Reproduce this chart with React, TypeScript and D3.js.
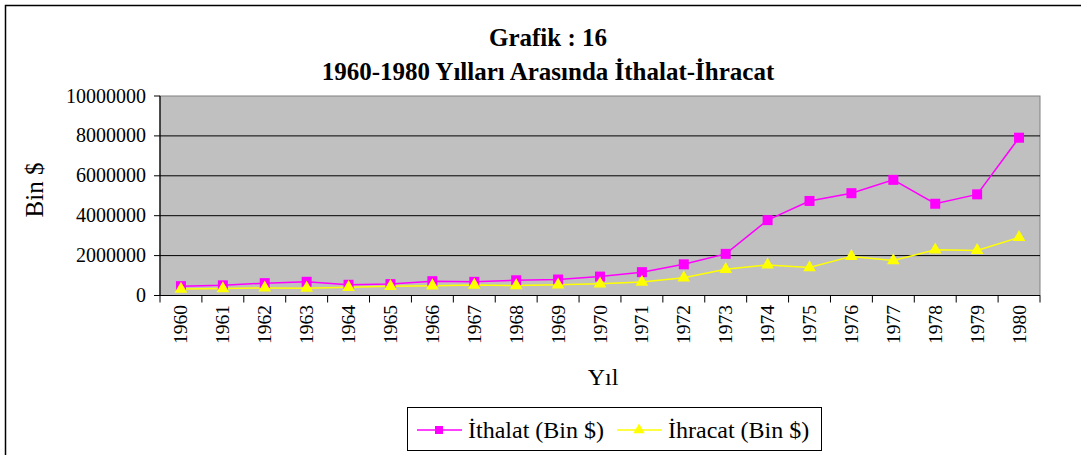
import React from "react";
import * as d3 from "d3";

const years = ["1960","1961","1962","1963","1964","1965","1966","1967","1968","1969","1970","1971","1972","1973","1974","1975","1976","1977","1978","1979","1980"];
const ithalat = [468186,509526,619438,687616,537227,571953,718269,684669,763688,801236,947604,1170840,1562550,2086216,3777501,4738558,5128647,5796278,4599025,5069431,7909364];
const ihracat = [320731,346736,381169,368087,410771,463738,490508,522334,496419,536834,588476,676602,885019,1317083,1532182,1401075,1960214,1753026,2288163,2261195,2910122];
const yTicks = [0,2000000,4000000,6000000,8000000,10000000];
const titleLines = ["Grafik : 16", "1960-1980 Yılları Arasında İthalat-İhracat"];
const seriesNames = ["İthalat (Bin $)", "İhracat (Bin $)"];

const W = 1081, H = 455;
const L = 160, R = 1040, T = 96, B = 295.5;
const FONT = "Liberation Serif, Tinos, Times New Roman, DejaVu Serif, serif";

export default function App() {
  const x = d3.scaleBand<string>().domain(years).range([L, R]);
  const y = d3.scaleLinear().domain([0, 10000000]).range([B, T]);
  const cx = (i: number) => (x(years[i]) as number) + x.bandwidth() / 2;
  const line = d3.line<number>().x((_, i) => cx(i)).y(d => y(d));
  const tri = d3.symbol().type(d3.symbolTriangle).size(70)();
  return (
    <svg width={W} height={H} style={{ position: "absolute", left: 0, top: 0, display: "block", fontFamily: FONT }}>
      <rect x={0} y={0} width={W} height={H} fill="#fff" />
      <rect x={5.5} y={5.5} width={W + 20} height={H + 20} fill="none" stroke="#000" strokeWidth={1.5} />
      <text x={548} y={46} textAnchor="middle" style={{ fontFamily: FONT }} fontWeight="bold" fontSize={25}>{titleLines[0]}</text>
      <text x={548} y={80} textAnchor="middle" style={{ fontFamily: FONT }} fontWeight="bold" fontSize={25}>{titleLines[1]}</text>
      <rect x={L} y={T} width={R - L} height={B - T} fill="#c0c0c0" stroke="#808080" strokeWidth={1} />
      {yTicks.slice(1, -1).map(t => (
        <line key={t} x1={L} x2={R} y1={y(t)} y2={y(t)} stroke="#000" strokeWidth={1} />
      ))}
      <line x1={L} x2={L} y1={T} y2={B} stroke="#000" strokeWidth={1.2} />
      <line x1={L - 6} x2={R} y1={B} y2={B} stroke="#000" strokeWidth={1.2} />
      {yTicks.map(t => (
        <g key={t}>
          <line x1={L - 6} x2={L} y1={y(t)} y2={y(t)} stroke="#000" />
          <text x={146} y={y(t) + 6.5} textAnchor="end" style={{ fontFamily: FONT }} fontSize={20}>{t}</text>
        </g>
      ))}
      {years.map((yr, i) => (
        <g key={yr}>
          <line x1={x(yr) as number} x2={x(yr) as number} y1={B} y2={B + 7} stroke="#000" />
          <text transform={`translate(${cx(i) + 6.5},${305}) rotate(-90)`} textAnchor="end" style={{ fontFamily: FONT }} fontSize={19.5}>{yr}</text>
        </g>
      ))}
      <line x1={R} x2={R} y1={B} y2={B + 7} stroke="#000" />
      <text transform={`translate(43,190) rotate(-90)`} textAnchor="middle" style={{ fontFamily: FONT }} fontSize={25}>Bin $</text>
      <text x={603} y={385} textAnchor="middle" style={{ fontFamily: FONT }} fontSize={24}>Yıl</text>
      <path d={line(ithalat) as string} fill="none" stroke="#ff00ff" strokeWidth={1.5} />
      <path d={line(ihracat) as string} fill="none" stroke="#ffff00" strokeWidth={1.5} />
      {ithalat.map((v, i) => (
        <rect key={i} x={cx(i) - 5} y={y(v) - 5} width={10} height={10} fill="#ff00ff" />
      ))}
      {ihracat.map((v, i) => (
        <path key={i} d={tri as string} transform={`translate(${cx(i)},${y(v)})`} fill="#ffff00" />
      ))}
      <rect x={407.5} y={407.5} width={414} height={43} fill="#fff" stroke="#000" strokeWidth={1} />
      <line x1={417} x2={462} y1={430} y2={430} stroke="#ff00ff" strokeWidth={1.5} />
      <rect x={435} y={426} width={8} height={8} fill="#ff00ff" />
      <text x={468} y={438} style={{ fontFamily: FONT }} fontSize={24}>{seriesNames[0]}</text>
      <line x1={617} x2={662} y1={430} y2={430} stroke="#ffff00" strokeWidth={1.5} />
      <path d={d3.symbol().type(d3.symbolTriangle).size(55)() as string} transform="translate(639,430)" fill="#ffff00" />
      <text x={668} y={438} style={{ fontFamily: FONT }} fontSize={24}>{seriesNames[1]}</text>
    </svg>
  );
}
